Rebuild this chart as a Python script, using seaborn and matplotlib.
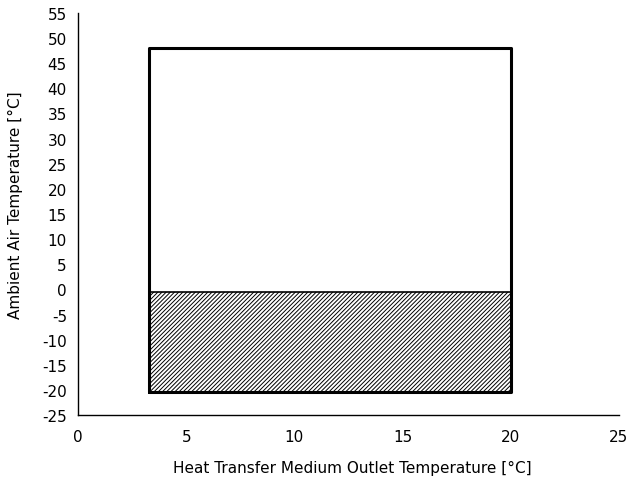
import matplotlib
matplotlib.use("Agg")
import matplotlib.pyplot as plt
import seaborn as sns
import pandas as pd

# Data
outline_x = [3.3, 20.0, 20.0, 3.3, 3.3]
outline_y = [-20.5, -20.5, 48.0, 48.0, -20.5]
hatch_x = [3.3, 20.0]
hatch_bottom = [-20.5, -20.5]
hatch_top = [-0.6, -0.6]
x_ticks = [0, 5, 10, 15, 20, 25]
y_ticks = list(range(-25, 56, 5))

sns.set_theme(style="white")
plt.rcParams['font.family'] = ['DejaVu Sans']
plt.rcParams['hatch.linewidth'] = 0.7
plt.rcParams['text.color'] = 'black'
plt.rcParams['axes.labelcolor'] = 'black'
plt.rcParams['xtick.color'] = 'black'
plt.rcParams['ytick.color'] = 'black'

fig = plt.figure(figsize=(6.29, 4.81), dpi=100)
ax = fig.add_axes([78/629, 1 - 416/481, (619-78)/629, (416-14)/481])

ax.fill_between(hatch_x, hatch_bottom, hatch_top, facecolor="white",
                edgecolor="black", hatch="////////", linewidth=0)
df = pd.DataFrame({"x": outline_x, "y": outline_y})
sns.lineplot(data=df, x="x", y="y", sort=False, color="black", linewidth=2.2,
             estimator=None, ax=ax)
ax.plot(hatch_x, hatch_top, color="black", linewidth=1.2)

ax.set_xlim(0, 25)
ax.set_ylim(-25, 55)
ax.set_xticks(x_ticks)
ax.set_yticks(y_ticks)
ax.set_xticklabels([str(t) for t in x_ticks], fontsize=11)
ax.set_yticklabels([str(t) for t in y_ticks], fontsize=11)
ax.tick_params(axis="x", direction="out", length=4, width=1, pad=6, color="black")
ax.tick_params(axis="y", length=0, pad=8)
for s in ["top", "right"]:
    ax.spines[s].set_visible(False)
for s in ["left", "bottom"]:
    ax.spines[s].set_color("black")
    ax.spines[s].set_linewidth(1.0)

ax.set_xlabel("Heat Transfer Medium Outlet Temperature [°C]", fontsize=11)
ax.set_ylabel("Ambient Air Temperature [°C]", fontsize=11)
ax.xaxis.set_label_coords(0.507, -0.113)
ax.yaxis.set_label_coords(-0.102, 0.525)

fig.savefig("out.png", dpi=100)
